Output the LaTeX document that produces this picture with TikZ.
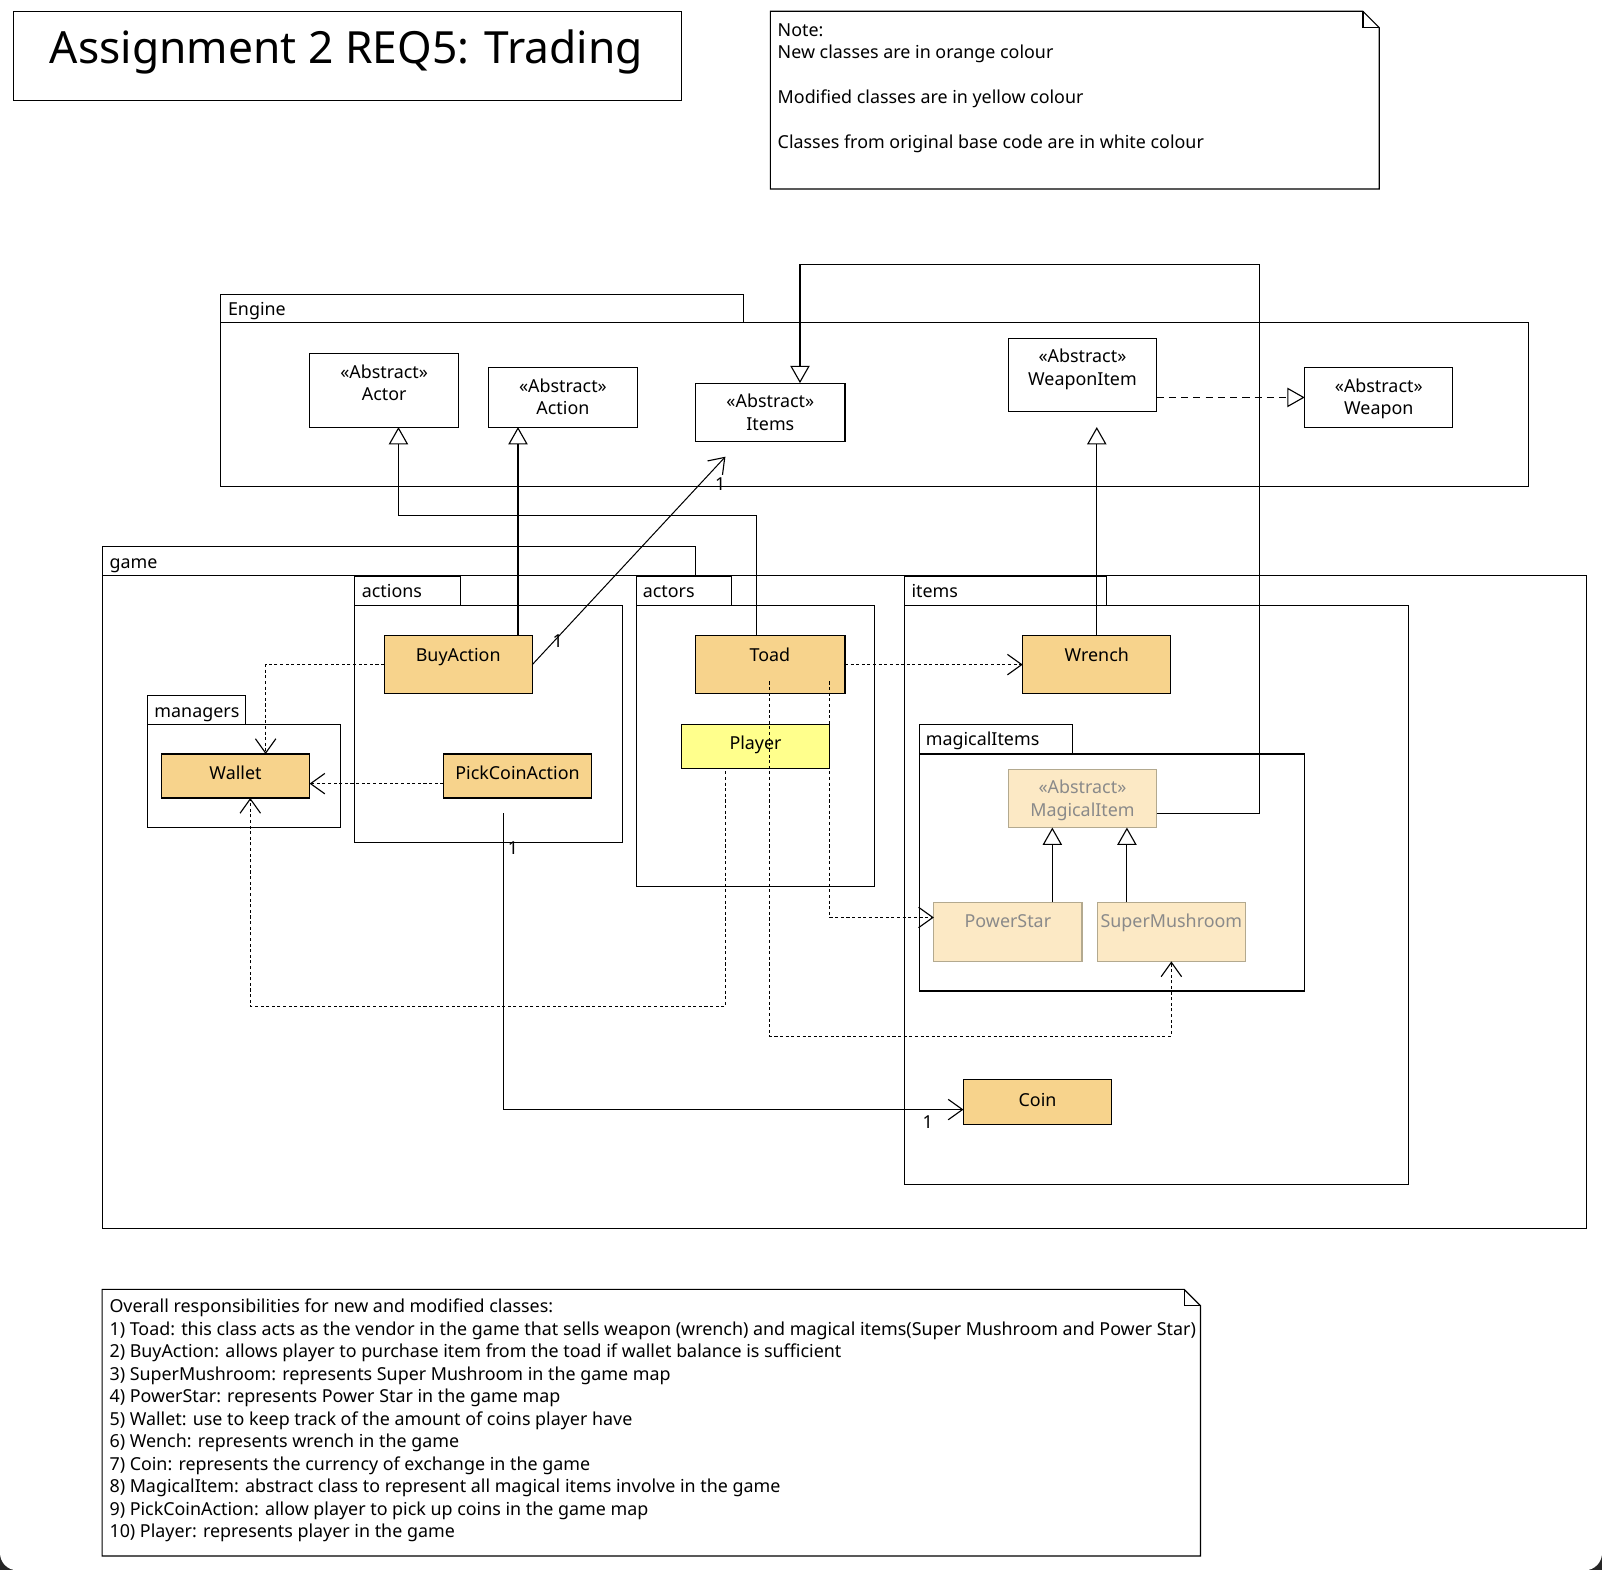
\documentclass[tikz,border=0pt]{standalone}
\usepackage{fontspec}
\setmainfont{Noto Sans}
\usetikzlibrary{arrows.meta}
\definecolor{neworange}{HTML}{F7D38C}
\definecolor{modyellow}{HTML}{FFFF8C}
\definecolor{lightorange}{HTML}{FCE9C5}
\definecolor{lightborder}{HTML}{B3A98F}
\definecolor{lighttext}{HTML}{8A8A8A}
\tikzset{
  txt/.style={inner sep=0pt, anchor=base, font=\fontsize{17.5}{22}\selectfont},
  ltxt/.style={txt, anchor=base west},
  box/.style={draw, line width=1.1pt, inner sep=0pt, outer sep=0pt},
  whitebox/.style={box, fill=white},
  newbox/.style={box, fill=neworange},
  modbox/.style={box, fill=modyellow},
  lightbox/.style={box, fill=lightorange, draw=lightborder},
  pkg/.style={draw, line width=1.1pt},
  gen/.style={line width=1pt, -{Triangle[open, length=17pt, width=19pt, fill=white, line width=1.1pt]}},
  real/.style={line width=1pt, dash pattern=on 7pt off 5pt, -{Triangle[open, length=17pt, width=19pt, fill=white, line width=1.1pt]}},
  dep/.style={line width=0.9pt, dash pattern=on 3pt off 2.5pt, -{Straight Barb[length=14pt, width=20pt, line width=1.1pt]}},
  assoc/.style={line width=1pt, -{Straight Barb[length=14pt, width=20pt, line width=1.1pt]}},
}
\newcommand\ucls[6]{\node[#1, minimum width={#5-#3}, minimum height={#6-#4}] (#2) at ({(#3+#5)/2},{(#4+#6)/2}) {};}
\begin{document}
\begin{tikzpicture}[x=1pt,y=-1pt]
\useasboundingbox (0,0) rectangle (1568,1537);
\fill[black!85] (0,1500) rectangle (1568,1537);
\fill[white] (0,0) -- (0,1500) {[rounded corners=17] -- (0,1537) -- (1568,1537) -- (1568,1500)} -- (1568,0) -- cycle;

% title
\node[draw, line width=1.1pt, minimum width=654, minimum height=87, inner sep=0pt] (titlebox) at (340,54.5) {};
\node[inner sep=0pt, anchor=base, font=\fontsize{43.4}{50}\selectfont] (title) at (339,62.5) {Assignment 2 REQ5: Trading};

% note top
\draw[line width=1.1pt] (754,11) -- (1334,11) -- (1350,27) -- (1350,185) -- (754,185) -- cycle;
\draw[line width=1.1pt] (1334,11) -- (1334,27) -- (1350,27);
\node[ltxt] (n1) at (761,36) {Note:};
\node[ltxt] (n2) at (761,57) {New classes are in orange colour};
\node[ltxt] (n3) at (761,101) {Modified classes are in yellow colour};
\node[ltxt] (n4) at (761,145) {Classes from original base code are in white colour};

% packages
\draw[pkg] (216,288) rectangle (728,316);
\draw[pkg] (216,316) rectangle (1496,476);
\node[ltxt] (pEngine) at (223,309) {Engine};

\draw[pkg] (100,535) rectangle (681,563);
\draw[pkg] (100,563) rectangle (1553,1202);
\node[ltxt] (pGame) at (107,556) {game};

\draw[pkg] (347,564) rectangle (451,593);
\draw[pkg] (347,593) rectangle (609,825);
\node[ltxt] (pActions) at (354,585) {actions};

\draw[pkg] (623,564) rectangle (716,593);
\draw[pkg] (623,593) rectangle (856,868);
\node[ltxt] (pActors) at (629,585) {actors};

\draw[pkg] (885,564) rectangle (1083,593);
\draw[pkg] (885,593) rectangle (1379,1159);
\node[ltxt] (pItems) at (892,585) {items};

\draw[pkg] (144,681) rectangle (240,709);
\draw[pkg] (144,709) rectangle (333,810);
\node[ltxt] (pManagers) at (151,702) {managers};

\draw[pkg] (900,709) rectangle (1050,738);
\draw[pkg] (900,738) rectangle (1277,970);
\node[ltxt] (pMagical) at (906,730) {magicalItems};

% classes
\ucls{whitebox}{actor}{303}{346}{449}{418}
\node[txt] (actorA) at (376,370) {«Abstract»};
\node[txt] (actorT) at (376,392) {Actor};
\ucls{whitebox}{action}{478}{360}{624}{418}
\node[txt] (actionA) at (551,384) {«Abstract»};
\node[txt] (actionT) at (551,406) {Action};
\ucls{whitebox}{items}{681}{375}{827}{432}
\node[txt] (itemsA) at (754,399) {«Abstract»};
\node[txt] (itemsT) at (754,421) {Items};
\ucls{whitebox}{weaponitem}{987}{331}{1132}{403}
\node[txt] (weaponitemA) at (1059.5,355) {«Abstract»};
\node[txt] (weaponitemT) at (1059.5,377) {WeaponItem};
\ucls{whitebox}{weapon}{1277}{360}{1422}{418}
\node[txt] (weaponA) at (1349.5,384) {«Abstract»};
\node[txt] (weaponT) at (1349.5,406) {Weapon};

\ucls{newbox}{buy}{376}{622}{521}{679}
\node[txt] (buyT) at (448.5,647) {BuyAction};
\ucls{newbox}{pick}{434}{738}{579}{781}
\node[txt] (pickT) at (506.5,763) {PickCoinAction};
\ucls{newbox}{wallet}{158}{738}{303}{781}
\node[txt] (walletT) at (230.5,763) {Wallet};
\ucls{newbox}{toad}{681}{622}{827}{679}
\node[txt] (toadT) at (753.5,647) {Toad};
\ucls{modbox}{player}{667}{709}{812}{752}
\node[txt] (playerT) at (739.5,734) {Player};
\ucls{newbox}{wrench}{1001}{622}{1146}{679}
\node[txt] (wrenchT) at (1073.5,647) {Wrench};
\ucls{lightbox}{magical}{987}{753}{1132}{810}
\node[txt, text=lighttext] (magicalA) at (1059.5,777) {«Abstract»};
\node[txt, text=lighttext] (magicalT) at (1059.5,799) {MagicalItem};
\ucls{lightbox}{powerstar}{914}{883}{1059}{941}
\node[txt, text=lighttext] (powerstarT) at (986.5,908) {PowerStar};
\ucls{lightbox}{supermush}{1074}{883}{1219}{941}
\node[txt, text=lighttext] (supermushT) at (1146.5,908) {SuperMushroom};
\ucls{newbox}{coin}{943}{1057}{1088}{1101}
\node[txt] (coinT) at (1015.5,1083) {Coin};

% connectors
\draw[gen] ([xshift=-14pt]toad.north) -- ++(0,-117) -| ([xshift=14pt]actor.south);
\draw[gen] ([xshift=58.5pt]buy.north) -- ([xshift=-44pt]action.south);
\draw[assoc] (buy.east) -- ([xshift=-44pt,yshift=-15pt]items.south);
\node[txt] (m1) at (546,634) {1};
\node[txt] (m2) at (705,480) {1};
\draw[gen] (wrench.north) -- ([xshift=14pt,yshift=-15pt]weaponitem.south);
\draw[real] ([yshift=-22pt]weaponitem.east) -- (weapon.west);
\draw[gen] ([yshift=-14.5pt]magical.east) -- ++(101,0) -- ++(0,-537) -| ([xshift=29pt]items.north);
\draw[gen] ([xshift=43.5pt]powerstar.north) -- ([xshift=-29.5pt]magical.south);
\draw[gen] ([xshift=-43.5pt]supermush.north) -- ([xshift=43.5pt]magical.south);
\draw[dep] (toad.east) -- (wrench.west);
\draw[dep] ([xshift=58pt,yshift=-16.5pt]toad.center) |- ([yshift=14pt]powerstar.west);
\draw[dep] ([xshift=-1pt,yshift=-16.5pt]toad.center) -- ++(0,347) -| (supermush.south);
\draw[dep] ([xshift=-29.5pt,yshift=-3pt]player.south) -- ++(0,230) -| ([xshift=14.5pt]wallet.south);
\draw[dep] (buy.west) -| ([xshift=29.5pt]wallet.north);
\draw[dep] ([yshift=-7.5pt]pick.west) -- ([yshift=-7.5pt]wallet.east);
\draw[assoc] ([xshift=-13.5pt,yshift=-15pt]pick.south) |- ([yshift=-7pt]coin.west);
\node[txt] (m3) at (502,836) {1};
\node[txt] (m4) at (908,1105) {1};

% bottom note
\draw[line width=1.1pt] (100,1262) -- (1159,1262) -- (1175,1278) -- (1175,1523) -- (100,1523) -- cycle;
\draw[line width=1.1pt] (1159,1262) -- (1159,1278) -- (1175,1278);
\node[ltxt] (b0) at (107,1285) {Overall responsibilities for new and modified classes:};
\node[ltxt] (b1) at (107,1307) {1) Toad: this class acts as the vendor in the game that sells weapon (wrench) and magical items(Super Mushroom and Power Star)};
\node[ltxt] (b2) at (107,1329) {2) BuyAction: allows player to purchase item from the toad if wallet balance is sufficient};
\node[ltxt] (b3) at (107,1351) {3) SuperMushroom: represents Super Mushroom in the game map};
\node[ltxt] (b4) at (107,1373) {4) PowerStar: represents Power Star in the game map};
\node[ltxt] (b5) at (107,1395) {5) Wallet: use to keep track of the amount of coins player have};
\node[ltxt] (b6) at (107,1417) {6) Wench: represents wrench in the game};
\node[ltxt] (b7) at (107,1439) {7) Coin: represents the currency of exchange in the game};
\node[ltxt] (b8) at (107,1461) {8) MagicalItem: abstract class to represent all magical items involve in the game};
\node[ltxt] (b9) at (107,1483) {9) PickCoinAction: allow player to pick up coins in the game map};
\node[ltxt] (b10) at (107,1505) {10) Player: represents player in the game};
\end{tikzpicture}
\end{document}
